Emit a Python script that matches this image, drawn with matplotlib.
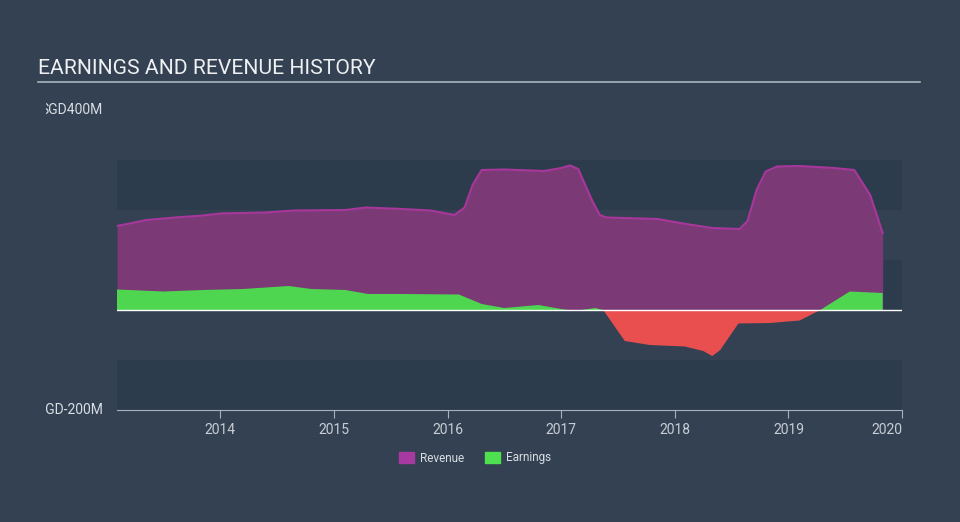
import matplotlib.pyplot as plt
from matplotlib.patches import Rectangle, Patch
import numpy as np

plt.rcParams['font.family'] = ['Roboto', 'DejaVu Sans']

# revenue history (decimal year, SGD millions)
rev_t = [2013.09, 2013.35, 2013.6, 2013.85, 2014.0, 2014.4, 2014.65, 2015.1, 2015.28,
         2015.6, 2015.85, 2016.06, 2016.15, 2016.22, 2016.3, 2016.5, 2016.85, 2017.0, 2017.08,
         2017.15, 2017.27, 2017.34, 2017.4, 2017.85, 2018.1, 2018.33, 2018.57, 2018.64, 2018.72,
         2018.8, 2018.9, 2019.1, 2019.4, 2019.58, 2019.72, 2019.83]
rev_v = [168, 180, 185, 189, 193, 195, 199, 200, 205,
         202, 199, 190, 205, 250, 280, 281, 278, 284, 289,
         282, 220, 190, 185, 182, 172, 164, 162, 178, 240,
         277, 287, 288, 284, 280, 230, 154]

# earnings history (decimal year, SGD millions)
earn_t = [2013.09, 2013.5, 2013.85, 2014.2, 2014.6, 2014.8, 2015.1, 2015.3, 2015.6,
          2016.1, 2016.3, 2016.5, 2016.8, 2017.0, 2017.12, 2017.3, 2017.37, 2017.56,
          2017.78, 2018.09, 2018.25, 2018.33, 2018.4, 2018.56, 2018.84, 2019.1, 2019.28,
          2019.54, 2019.83]
earn_v = [41, 37, 40, 42, 48, 42, 40, 32, 32,
          31, 12, 4, 10, 2, -2, 4, 0, -62,
          -70, -73, -82, -92, -80, -27, -26, -21, 0,
          37, 34]

years = [2014, 2015, 2016, 2017, 2018, 2019, 2020]

bg = '#334152'
band = '#2d3c4c'
grey = '#a9b2bc'

fig = plt.figure(figsize=(9.6, 5.22), dpi=100, facecolor=bg)
ax = fig.add_axes([117/960, 1-410/522, (902-117)/960, 300/522])
ax.set_facecolor(bg)
ax.set_xlim(rev_t[0], 2019.985)
ax.set_ylim(-200, 400)

# alternating bands
for lo in [200, 0, -200]:
    ax.axhspan(lo, lo + 100, color=band, lw=0, zorder=0)

ax.fill_between(rev_t, 0, rev_v, color='#7b3a76', lw=0, zorder=2)
ax.plot(rev_t, rev_v, color='#a8379c', lw=1.5, zorder=3)

et = np.array(earn_t)
ev = np.array(earn_v)
ax.fill_between(et, 0, ev, where=ev >= 0, interpolate=True, color='#4fd651', lw=0, zorder=4)
ax.fill_between(et, 0, ev, where=ev <= 0, interpolate=True, color='#ea4f4f', lw=0, zorder=4)
ax.axhline(0, color='white', lw=1, zorder=5)

for s in ['top', 'right', 'left']:
    ax.spines[s].set_visible(False)
ax.spines['bottom'].set_color(grey)
ax.set_yticks([])
ax.set_xticks(years)
ax.set_xticklabels([str(y) for y in years])
ax.tick_params(axis='x', colors=grey, labelcolor='#c8ced4', length=6, labelsize=10, pad=3)
# last label sits inside the plot edge
ax.get_xticklabels()[-1].set_horizontalalignment('right')

# y labels, clipped at the left like the original
clip = Rectangle((46, 0), 900, 522, transform=None)
for val, y in [('SGD400M', 110), ('SGD-200M', 410)]:
    t = fig.text(103/960, 1 - y/522, val, ha='right', va='center', color='#d8dde2', fontsize=10)
    t.set_clip_path(clip)

fig.text(38/960, 1-68/522, 'EARNINGS AND REVENUE HISTORY', color='#eef0f2', fontsize=15.2,
         va='center', ha='left')
fig.add_artist(plt.Line2D([38/960, 920/960], [1-82/522, 1-82/522], color=grey, lw=1.2))

handles = [Patch(color='#a73aa0', label='Revenue'), Patch(color='#4fe04f', label='Earnings')]
fig.legend(handles=handles, loc='center', bbox_to_anchor=(475/960, 1-458/522), ncol=2,
           frameon=False, fontsize=8.5, labelcolor='#d8dde2', handlelength=1.3,
           handleheight=1.0, columnspacing=1.8, handletextpad=0.5)

fig.savefig('out.png', dpi=100, facecolor=bg)
